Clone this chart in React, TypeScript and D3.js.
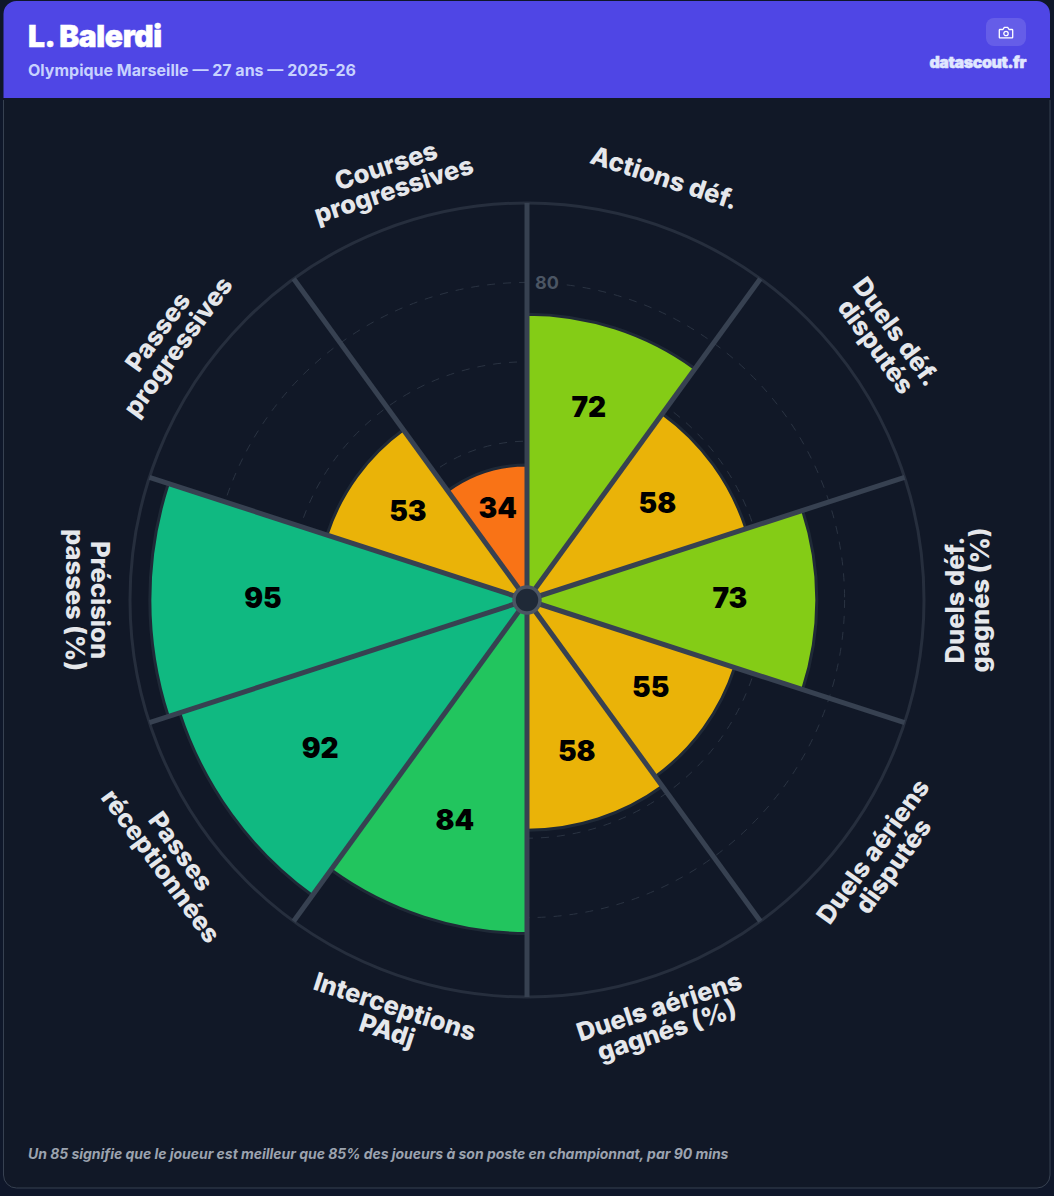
import React from "react";
import * as d3 from "d3";

const categories = ["Actions déf.", "Duels déf.\ndisputés", "Duels déf.\ngagnés (%)", "Duels aériens\ndisputés", "Duels aériens\ngagnés (%)", "Interceptions\nPAdj", "Passes\nréceptionnées", "Précision\npasses (%)", "Passes\nprogressives", "Courses\nprogressives"];
const values = [72, 58, 73, 55, 58, 84, 92, 95, 53, 34];
const fills = ["#84cc16", "#eab308", "#84cc16", "#eab308", "#eab308", "#22c55e", "#10b981", "#10b981", "#eab308", "#f97316"];
const rings = [20, 40, 60, 80];
const W = 1054, H = 1196, cx = 527, cy = 600;
const FONT = "Inter, sans-serif";

export default function App() {
  const r = d3.scaleLinear().domain([0, 100]).range([0, 397]);
  const step = 360 / categories.length;
  const arc = d3.arc<number>()
    .innerRadius(0)
    .outerRadius((d) => r(d));
  const rad = (deg: number) => (deg * Math.PI) / 180;
  const pt = (deg: number, rr: number) => [cx + rr * Math.sin(rad(deg)), cy - rr * Math.cos(rad(deg))];
  return (
    <svg width={W} height={H} style={{ position: "absolute", left: 0, top: 0, background: "#0f172a", fontFamily: FONT }}>
      <path d="M3.5 98 V1175 a13 13 0 0 0 13 13 H1037 a13 13 0 0 0 13 -13 V98 Z" fill="#111827" stroke="#374151" strokeWidth={1} />
      <rect x={3} y={97} width={1048} height={3} fill="#111827" />
      <path d="M3.5 98 V14 a13 13 0 0 1 13 -13 H1037 a13 13 0 0 1 13 13 V98 Z" fill="#4f46e5" />
      <text x={28} y={47} fontSize={30} fontWeight={900} letterSpacing={-0.4} fill="#fff" stroke="#fff" strokeWidth={0.5}>L. Balerdi</text>
      <text x={28} y={76} fontSize={16} fontWeight={700} fill="#c7d2fe">Olympique Marseille — 27 ans — 2025-26</text>
      <rect x={986} y={18} width={40} height={28} rx={8} fill="#fff" fillOpacity={0.13} />
      <g transform="translate(999,26)" fill="none" stroke="#fff" strokeWidth={1.3} strokeLinejoin="round">
        <path d="M1 3.5 h3 l1.3 -2.2 h3.4 l1.3 2.2 h3 a.7 .7 0 0 1 .7 .7 v7 a.7 .7 0 0 1 -.7 .7 h-12 a.7 .7 0 0 1 -.7 -.7 v-7 a.7 .7 0 0 1 .7 -.7z" />
        <circle cx={7} cy={7.5} r={2.2} />
      </g>
      <text x={1026} y={68} textAnchor="end" fontSize={16} fontWeight={900} letterSpacing={-0.4} fill="#e0e7ff" stroke="#e0e7ff" strokeWidth={0.5}>datascout.fr</text>

      <circle cx={cx} cy={cy} r={r(100)} fill="none" stroke="#262e3d" strokeWidth={3} />
      {rings.map((v) => (
        <circle key={v} cx={cx} cy={cy} r={r(v)} fill="none" stroke="#2a3342" strokeWidth={1} strokeDasharray="8 8" />
      ))}
      <g transform={`translate(${cx},${cy})`}>
        {values.map((v, i) => (
          <path key={i} d={arc.startAngle(rad(i * step)).endAngle(rad((i + 1) * step))(v) as string} fill={fills[i]} stroke="#1f2937" strokeWidth={3} />
        ))}
      </g>
      {categories.map((_, i) => {
        const [x, y] = pt(i * step, r(100));
        return <line key={i} x1={cx} y1={cy} x2={x} y2={y} stroke="#374151" strokeWidth={5} />;
      })}
      <rect x={532} y={272} width={30} height={22} fill="#111827" />
      <text x={547} y={289} textAnchor="middle" fontSize={18} fontWeight={700} fill="#4b5563">80</text>
      <circle cx={cx} cy={cy} r={13} fill="#1f2937" stroke="#4b5563" strokeWidth={3.5} />
      {values.map((v, i) => {
        const a = (i + 0.5) * step;
        const [x, y] = pt(a, r(v) * 0.7);
        return <text key={i} x={x} y={y} dy="0.27em" textAnchor="middle" fontSize={28} fontWeight={900} fill="#000">{v}</text>;
      })}
      {categories.map((c, i) => {
        const a = (i + 0.5) * step;
        const [x, y] = pt(a, 442);
        const rot = a >= 90 && a <= 270 ? a - 180 : a;
        const lines = c.split("\n");
        return (
          <text key={i} transform={`translate(${x},${y}) rotate(${rot})`} textAnchor="middle" fontSize={25.5} fontWeight={800} fill="#e5e7eb">
            {lines.map((l, j) => (
              <tspan key={j} x={0} y={(j - (lines.length - 1) / 2) * 25 + 7}>{l}</tspan>
            ))}
          </text>
        );
      })}
      <text x={28} y={1159} fontSize={14} fontWeight={700} fontStyle="italic" letterSpacing={-0.03} fill="#9ca3af">Un 85 signifie que le joueur est meilleur que 85% des joueurs à son poste en championnat, par 90 mins</text>
    </svg>
  );
}
